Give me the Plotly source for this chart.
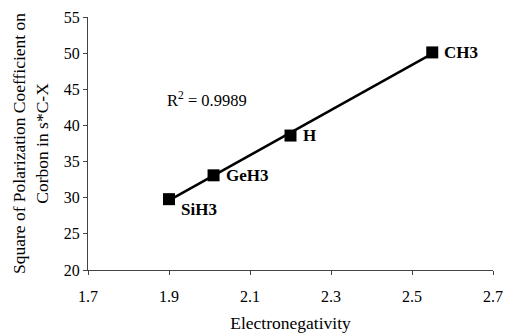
import numpy as np
import plotly.graph_objects as go

labels = ["SiH3", "GeH3", "H", "CH3"]
electroneg = [1.90, 2.01, 2.20, 2.55]
pol_sq = [29.8, 33.1, 38.6, 50.1]
r2_text = "R<sup>2</sup> = 0.9989"
x_ticks = [1.7, 1.9, 2.1, 2.3, 2.5, 2.7]
y_ticks = [20, 25, 30, 35, 40, 45, 50, 55]

FONT = "Liberation Serif"

slope, intercept = np.polyfit(electroneg, pol_sq, 1)
fit_x = [min(electroneg), max(electroneg)]
fit_y = [slope * v + intercept for v in fit_x]

fig = go.Figure()
fig.add_trace(go.Scatter(x=fit_x, y=fit_y, mode="lines",
                         line=dict(color="black", width=2.5),
                         showlegend=False, hoverinfo="skip"))
fig.add_trace(go.Scatter(x=electroneg, y=pol_sq, mode="markers",
                         marker=dict(symbol="square", size=12, color="black"),
                         showlegend=False))

label_yshift = [-10, 0, 0, 0]
for xv, yv, name, ys in zip(electroneg, pol_sq, labels, label_yshift):
    fig.add_annotation(x=xv, y=yv, xref="x", yref="y", text=f"<b>{name}</b>",
                       showarrow=False, xanchor="left", yanchor="middle",
                       xshift=10, yshift=ys,
                       font=dict(family=FONT, size=17, color="black"))

fig.add_annotation(x=1.89, y=43.6, xref="x", yref="y", text=r2_text,
                   showarrow=False, xanchor="left", yanchor="middle",
                   font=dict(family=FONT, size=16.5, color="black"))

fig.update_layout(
    width=506, height=335,
    margin=dict(l=88, r=13, t=17, b=65),
    paper_bgcolor="white", plot_bgcolor="white",
    font=dict(family=FONT, size=16, color="black"),
)
fig.update_xaxes(range=[1.7, 2.7], tickvals=x_ticks, ticktext=[f"{v:.1f}" for v in x_ticks],
                 showgrid=False, zeroline=False, showline=True, linecolor="#444", linewidth=1,
                 ticks="outside", ticklen=4, tickcolor="#444", ticklabelstandoff=8,
                 tickfont=dict(family=FONT, size=16), automargin=False,
                 title=dict(text="Electronegativity", font=dict(family=FONT, size=17.5), standoff=12))
fig.update_yaxes(range=[20, 55], tickvals=y_ticks,
                 showgrid=False, zeroline=False, showline=True, linecolor="#444", linewidth=1,
                 ticks="outside", ticklen=4, tickcolor="#444",
                 tickfont=dict(family=FONT, size=16), automargin=False,
                 title=dict(text="Square of Polarization Coefficient on<br>Corbon in s*C-X",
                            font=dict(family=FONT, size=17.5), standoff=10))

fig.write_html("out.html")
